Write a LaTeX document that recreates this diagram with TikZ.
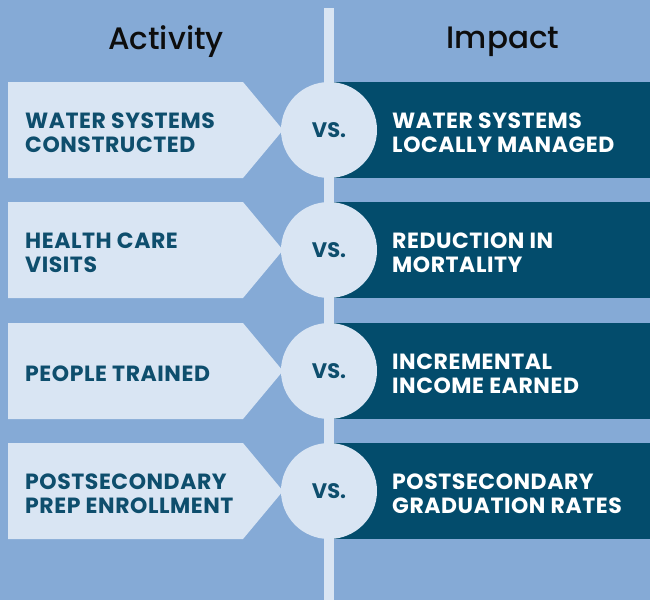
\documentclass[tikz,border=0pt]{standalone}
\usepackage{fontspec}
\setmainfont{Poppins}
\newfontfamily\headfont{Poppins Medium}
\newfontfamily\capsfont{Poppins}[LetterSpace=2.5]
\usetikzlibrary{positioning}

\definecolor{bgblue}{HTML}{85AAD6}
\definecolor{paleblue}{HTML}{D9E5F3}
\definecolor{deepteal}{HTML}{034C6C}
\definecolor{inkteal}{HTML}{0E4E6D}

\begin{document}
\begin{tikzpicture}[x=1pt,y=-1pt,
  heading/.style={font=\headfont\fontsize{31}{33}\selectfont, text=black!95, inner sep=0},
  actlabel/.style={font=\capsfont\fontsize{22}{24}\selectfont\bfseries, text=inkteal, align=left, anchor=west, inner sep=0},
  implabel/.style={font=\capsfont\fontsize{22}{24}\selectfont\bfseries, text=white, align=left, anchor=west, inner sep=0},
  vsdisc/.style={circle, fill=paleblue, minimum size=96pt, inner sep=0,
    font=\fontsize{21}{24}\selectfont\bfseries, text=inkteal}]

  % backdrop and divider
  \fill[bgblue] (0,0) rectangle (650,600);
  \fill[paleblue] (324,8) rectangle (334,600);

  \node[heading] (activity) at (166,42) {Activity};
  \node[heading] (impact)   at (503,42) {Impact};

  % one row per comparison
  \foreach \y/\lft/\rgt [count=\i] in {
      130/{WATER SYSTEMS\\CONSTRUCTED}/{WATER SYSTEMS\\LOCALLY MANAGED},
      250/{HEALTH CARE\\VISITS}/{REDUCTION IN\\MORTALITY},
      371/{PEOPLE TRAINED}/{INCREMENTAL\\INCOME EARNED},
      491/{POSTSECONDARY\\PREP ENROLLMENT}/{POSTSECONDARY\\GRADUATION RATES}} {
    \fill[paleblue] (8,\y-48) -- (243,\y-48) -- (283,\y) -- (243,\y+48) -- (8,\y+48) -- cycle;
    \fill[deepteal] (329,\y-48) rectangle (650,\y+48);
    \node[vsdisc] (vs\i) at (329,\y) {VS.};
    \node[actlabel] (act\i) at (25,\y+3) {\lft};
    \node[implabel] (imp\i) at (392,\y+3) {\rgt};
  }
\end{tikzpicture}
\end{document}
